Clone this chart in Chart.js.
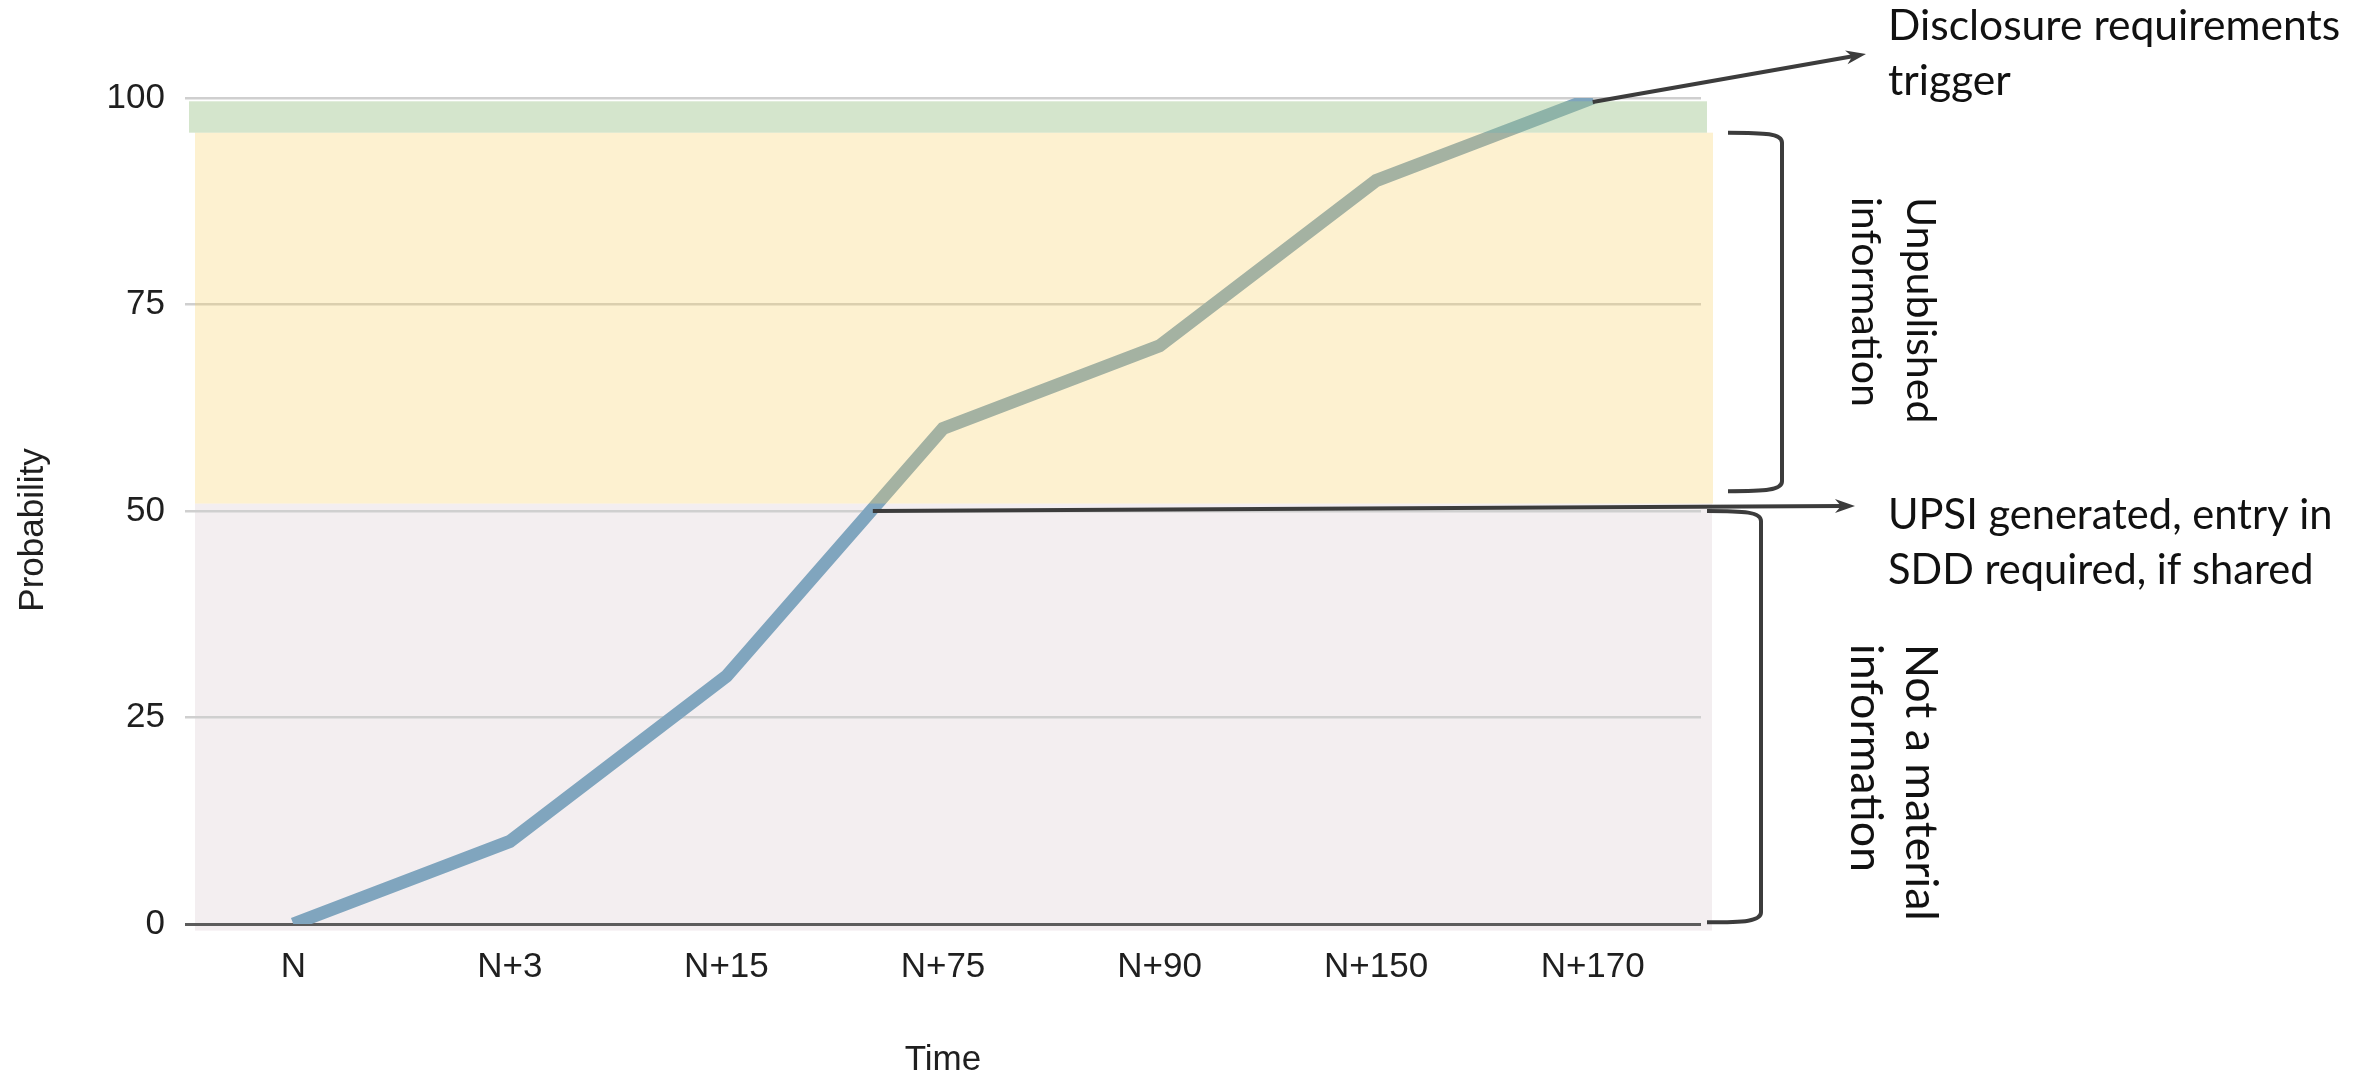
<!DOCTYPE html>
<html lang="en">
<head>
  <meta charset="UTF-8">
  <title>Probability over time</title>
  <script src="https://cdn.jsdelivr.net/npm/chart.js"></script>
  <style>
    body { margin: 0; background: #fff; }
    .wrap { width: 2361px; height: 1077px; position: relative; }
  </style>
</head>
<body>
<div class="wrap"><canvas id="chart"></canvas></div>

<script>
  // data
  const timeLabels = ['N', 'N+3', 'N+15', 'N+75', 'N+90', 'N+150', 'N+170'];
  const probability = [0, 10, 30, 60, 70, 90, 100];
  const yTicks = [0, 25, 50, 75, 100];

  // shaded zones (probability ranges): not material, unpublished, disclosure
  const zoneFrom = [-0.8, 50.9, 95.8];
  const zoneTo = [50.9, 95.8, 99.6];

  // brackets next to the zones
  const bracketFrom = [95.8, 50];
  const bracketTo = [52.4, 0.2];
  const upsiThreshold = 50;

  // annotation texts
  const noteDisclosure = ['Disclosure requirements', 'trigger'];
  const noteUpsi = ['UPSI generated, entry in', 'SDD required, if shared'];
  const labelUnpublished = ['Unpublished', 'information'];
  const labelNotMaterial = ['Not a material', 'information'];

  const tickFont = { family: "'Liberation Sans', Arial, sans-serif", size: 35 };
  const noteFamily = "Lato, 'Open Sans', sans-serif";
  const ink = '#3c3c3c';

  function fillZone(chart, i, color, dl, dr) {
    const { ctx, chartArea, scales: { y } } = chart;
    const top = y.getPixelForValue(zoneTo[i]);
    const bottom = y.getPixelForValue(zoneFrom[i]);
    ctx.save();
    ctx.fillStyle = color;
    ctx.fillRect(chartArea.left + dl, top, chartArea.right - chartArea.left + dr - dl, bottom - top);
    ctx.restore();
  }

  function arrow(ctx, x0, y0, x1, y1) {
    const a = Math.atan2(y1 - y0, x1 - x0);
    ctx.beginPath();
    ctx.moveTo(x0, y0);
    ctx.lineTo(x1 - 12 * Math.cos(a), y1 - 12 * Math.sin(a));
    ctx.stroke();
    ctx.beginPath();
    ctx.moveTo(x1, y1);
    ctx.lineTo(x1 - 20 * Math.cos(a) + 7 * Math.sin(a), y1 - 20 * Math.sin(a) - 7 * Math.cos(a));
    ctx.lineTo(x1 - 14 * Math.cos(a), y1 - 14 * Math.sin(a));
    ctx.lineTo(x1 - 20 * Math.cos(a) - 7 * Math.sin(a), y1 - 20 * Math.sin(a) + 7 * Math.cos(a));
    ctx.closePath();
    ctx.fill();
  }

  function bracket(ctx, x0, x1, top, bottom) {
    const w = x1 - x0;
    ctx.beginPath();
    ctx.moveTo(x0, top);
    ctx.bezierCurveTo(x0 + w * 0.7, top, x1, top + 1, x1, top + 10);
    ctx.lineTo(x1, bottom - 10);
    ctx.bezierCurveTo(x1, bottom - 1, x0 + w * 0.7, bottom, x0, bottom);
    ctx.stroke();
  }

  // font size so that a text gets the wanted width
  function fitSize(ctx, text, width) {
    ctx.font = '100px ' + noteFamily;
    return 100 * width / ctx.measureText(text).width;
  }

  function note(ctx, lines, x, y, width, rotate) {
    const size = fitSize(ctx, rotate ? lines[1] : lines[0], width);
    ctx.save();
    ctx.font = size.toFixed(1) + 'px ' + noteFamily;
    ctx.fillStyle = '#111';
    ctx.textAlign = 'left';
    ctx.textBaseline = 'alphabetic';
    ctx.translate(x, y);
    if (rotate) ctx.rotate(Math.PI / 2);
    lines.forEach((t, i) => ctx.fillText(t, 0, i * 55));
    ctx.restore();
  }

  const zonesPlugin = {
    id: 'zones',
    beforeDraw(chart) {
      // the pink zone lies under the grid lines
      fillZone(chart, 0, '#f3eef0', 10, 11);
    },
    afterDatasetsDraw(chart) {
      // yellow and green zones tint the line
      fillZone(chart, 1, 'rgba(248,208,98,0.3)', 10, 12);
      fillZone(chart, 2, 'rgba(160,198,142,0.45)', 4, 6);
    }
  };

  const notesPlugin = {
    id: 'notes',
    afterDraw(chart) {
      const { ctx, chartArea, scales: { x, y } } = chart;
      ctx.save();
      ctx.strokeStyle = ink;
      ctx.fillStyle = ink;
      ctx.lineWidth = 4;

      // where the line crosses the UPSI threshold
      const k = probability.findIndex(v => v >= upsiThreshold);
      const f = (upsiThreshold - probability[k - 1]) / (probability[k] - probability[k - 1]);
      const cx = x.getPixelForValue(k - 1) + f * (x.getPixelForValue(k) - x.getPixelForValue(k - 1));
      arrow(ctx, cx + 2, y.getPixelForValue(upsiThreshold), 1855, 506);

      const last = probability.length - 1;
      arrow(ctx, x.getPixelForValue(last), y.getPixelForValue(probability[last]) + 4, 1866, 54);

      bracket(ctx, 1728, 1782, y.getPixelForValue(bracketFrom[0]), y.getPixelForValue(bracketTo[0]));
      bracket(ctx, 1707, 1761, y.getPixelForValue(bracketFrom[1]), y.getPixelForValue(bracketTo[1]));
      ctx.restore();

      note(ctx, noteDisclosure, 1888, 40, 452, false);
      note(ctx, noteUpsi, 1888, 529, 445, false);
      note(ctx, labelUnpublished, 1907, 197, 210, true);
      note(ctx, labelNotMaterial, 1906, 644, 228, true);

      // axis titles
      ctx.save();
      ctx.font = '35px ' + tickFont.family;
      ctx.fillStyle = '#1f1f1f';
      ctx.textAlign = 'center';
      ctx.textBaseline = 'alphabetic';
      ctx.fillText('Time', (chartArea.left + chartArea.right) / 2, 1070);
      ctx.translate(43, 530);
      ctx.rotate(-Math.PI / 2);
      ctx.fillText('Probability', 0, 0);
      ctx.restore();
    }
  };

  new Chart(document.getElementById('chart'), {
    type: 'line',
    data: {
      labels: timeLabels,
      datasets: [{
        data: probability,
        borderColor: '#80a5be',
        borderWidth: 13,
        pointRadius: 0,
        tension: 0,
        fill: false
      }]
    },
    options: {
      responsive: true,
      maintainAspectRatio: false,
      animation: false,
      layout: { padding: { top: 98, right: 660, bottom: 0, left: 0 } },
      plugins: {
        legend: { display: false },
        tooltip: { enabled: false }
      },
      scales: {
        x: {
          offset: true,
          grid: { display: false },
          border: { display: false },
          ticks: { font: tickFont, color: '#1f1f1f', padding: 14, maxRotation: 0 },
          afterFit: s => { s.height = 153; }
        },
        y: {
          min: 0,
          max: 100,
          afterBuildTicks: s => { s.ticks = yTicks.map(v => ({ value: v })); },
          grid: {
            drawTicks: false,
            color: c => c.tick && c.tick.value === 0 ? '#5c5c5c' : '#cfcfcf',
            lineWidth: c => c.tick && c.tick.value === 0 ? 3 : 2.5
          },
          border: { display: false },
          ticks: { font: tickFont, color: '#1f1f1f', padding: 20 },
          afterFit: s => { s.width = 185; }
        }
      }
    },
    plugins: [zonesPlugin, notesPlugin]
  });
</script>
</body>
</html>
